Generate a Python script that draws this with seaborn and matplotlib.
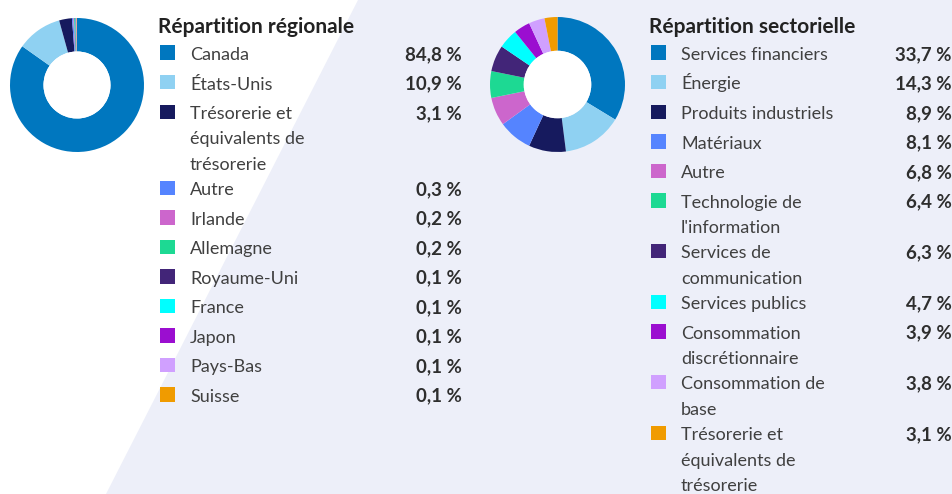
import matplotlib
matplotlib.use("Agg")
import matplotlib.pyplot as plt
import seaborn as sns
from matplotlib.patches import Polygon, Rectangle, Circle

# ---------------- data ----------------
region_title = "Répartition régionale"
region_labels = ["Canada", "États-Unis", "Trésorerie et\néquivalents de\ntrésorerie", "Autre",
                 "Irlande", "Allemagne", "Royaume-Uni", "France", "Japon", "Pays-Bas", "Suisse"]
region_values = [84.8, 10.9, 3.1, 0.3, 0.2, 0.2, 0.1, 0.1, 0.1, 0.1, 0.1]

sector_title = "Répartition sectorielle"
sector_labels = ["Services financiers", "Énergie", "Produits industriels", "Matériaux", "Autre",
                 "Technologie de\nl'information", "Services de\ncommunication", "Services publics",
                 "Consommation\ndiscrétionnaire", "Consommation de\nbase",
                 "Trésorerie et\néquivalents de\ntrésorerie"]
sector_values = [33.7, 14.3, 8.9, 8.1, 6.8, 6.4, 6.3, 4.7, 3.9, 3.8, 3.1]

palette_hex = ["#0077BF", "#8FD1F2", "#161A5E", "#5584FF", "#CC66CC", "#1DD993",
               "#422578", "#00FFFF", "#9B0ED0", "#D0A0FF", "#F09B00"]

# ---------------- style ----------------
sns.set_theme(style="white")
plt.rcParams['font.family'] = ['Lato', 'DejaVu Sans']
colors = sns.color_palette(palette_hex)

BG = "#EDEFF9"
W, H = 953, 494
fig = plt.figure(figsize=(W / 100, H / 100), dpi=100, facecolor=BG)

bg = fig.add_axes([0, 0, 1, 1])
bg.set_xlim(0, W)
bg.set_ylim(H, 0)
bg.axis('off')
bg.add_patch(Polygon([(0, 0), (358, 0), (106, H), (0, H)], closed=True, fc='white', ec='none', zorder=0))


def donut(cx, cy, r, values):
    ax = fig.add_axes([(cx - r) / W, 1 - (cy + r) / H, 2 * r / W, 2 * r / H])
    ax.pie(values, colors=colors[:len(values)], startangle=90, counterclock=False, radius=1,
           wedgeprops=dict(width=0.5, edgecolor='none', linewidth=0))
    ax.add_patch(Circle((0, 0), 0.5, fc='white', ec='none', zorder=5))
    ax.set_xlim(-1, 1)
    ax.set_ylim(-1, 1)
    ax.set_aspect('equal')
    ax.axis('off')


def fmt(v):
    return f"{v:.1f} %".replace('.', ',')


LINE = 25.4


def legend(x_title, x_sq, x_lab, x_val, title, labels, values):
    bg.text(x_title, 33, title, fontsize=15, fontweight='bold', color='#222222',
            ha='left', va='baseline')
    y = 60.0
    for i, (lab, v) in enumerate(zip(labels, values)):
        lines = lab.split('\n')
        bg.add_patch(Rectangle((x_sq, y - 14.5), 15.5, 14.5, fc=colors[i], ec='none', zorder=2))
        for k, line in enumerate(lines):
            bg.text(x_lab, y + k * LINE, line, fontsize=13, color='#404040',
                    ha='left', va='baseline')
        bg.text(x_val, y, fmt(v), fontsize=13.5, fontweight='bold', color='#2E2E2E',
                ha='right', va='baseline')
        y += 29.5 if len(lines) == 1 else LINE * len(lines)


donut(77, 85, 67, region_values)
donut(557.5, 84.5, 67.5, sector_values)

legend(158, 160, 190, 462, region_title, region_labels, region_values)
legend(649, 651, 681, 952, sector_title, sector_labels, sector_values)

fig.savefig("out.png", dpi=100, facecolor=BG)
